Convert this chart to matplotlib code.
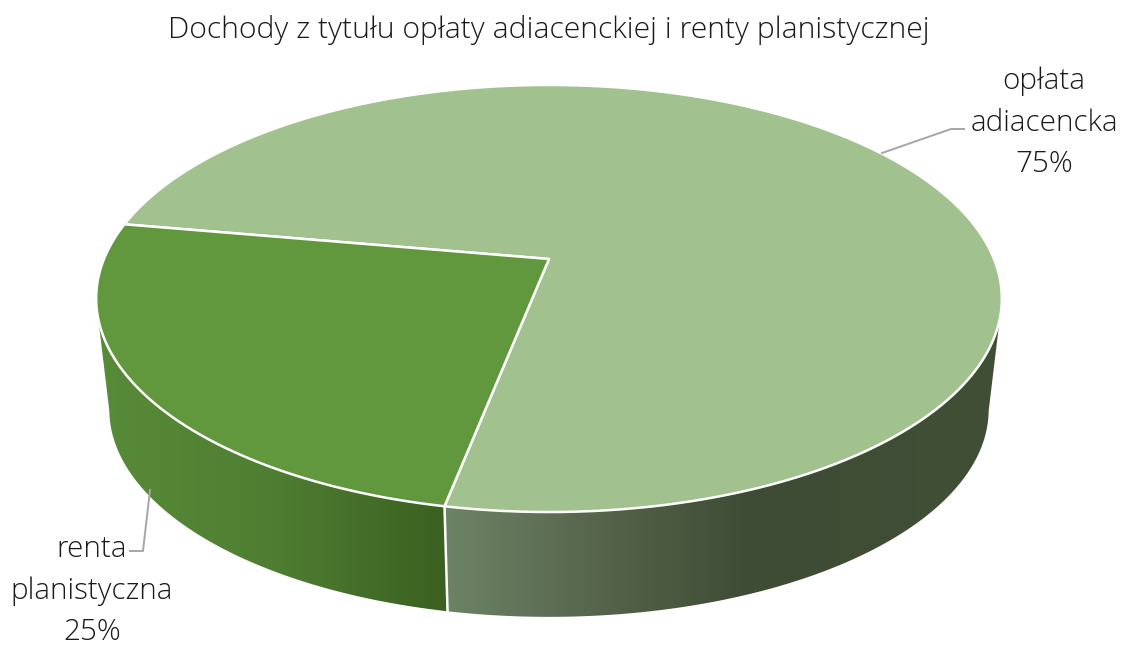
"""
perspective 3d pie, income from two fees
"""
import numpy as np
import matplotlib
matplotlib.use("Agg")
import matplotlib.pyplot as plt
from matplotlib.colors import LinearSegmentedColormap
from matplotlib.patches import Polygon

title = "Dochody z tytułu opłaty adiacenckiej i renty planistycznej"
labels = ["opłata\nadiacencka", "renta\nplanistyczna"]
values = [75.3, 24.7]
top_colors = ["#a1c18f", "#61973d"]
side_stops = [[(0.0, "#6d8366"), (0.33, "#515f47"), (0.55, "#3f4c35"), (1.0, "#424f37")],
              [(0.0, "#588b38"), (0.5, "#4f7e32"), (1.0, "#3b6020")]]

first_angle = 280.0  # clockwise from the back of the pie

# camera, in pixels of the 1122x646 image
cx, apex_y = 549.0, 259.0
persp = 0.185
y_gain = -158.3
x_gain = 445.0
depth_scale = 0.971
vanish_y = 4127.0


def project_top(angle):
    a = np.radians(angle)
    x, y = np.sin(a), np.cos(a)
    w = 1 + persp * y
    return cx + x_gain * x / w, (apex_y + y_gain * y) / w


def project_bottom(angle):
    X, Y = project_top(angle)
    return cx + depth_scale * (X - cx), vanish_y - depth_scale * (vanish_y - Y)


def arc(func, a0, a1):
    n = max(int(abs(a1 - a0) * 2), 2)
    X, Y = func(np.linspace(a0, a1, n))
    return np.column_stack([X, Y])


plt.rcParams['font.family'] = ['Open Sans', 'DejaVu Sans']
plt.rcParams['font.weight'] = 300

fig = plt.figure(figsize=(11.22, 6.46), dpi=100)
ax = fig.add_axes([0, 0, 1, 1])
ax.set_xlim(0, 1122)
ax.set_ylim(646, 0)
ax.axis("off")

shares = np.array(values) / sum(values)
edges = first_angle + np.concatenate([[0], np.cumsum(shares) * 360])

# side walls, only the part facing the camera
front_from, front_to = 106.0, 254.0
bottom_extra = 5.0  # lower rim runs on a bit further, rounds the silhouette
seams = []
for i in range(len(values)):
    a0, a1 = edges[i] % 360, edges[i + 1] % 360
    if a1 < a0:
        a0 -= 360
    lo, hi = max(a0, front_from), min(a1, front_to)
    if lo >= hi:
        continue
    lo_b = lo - bottom_extra if lo == front_from else lo
    hi_b = hi + bottom_extra if hi == front_to else hi
    top_arc = arc(project_top, lo, hi)
    low_arc = arc(project_bottom, hi_b, lo_b)
    wall = np.vstack([top_arc, low_arc])
    x0, x1 = wall[:, 0].min(), wall[:, 0].max()
    cmap = LinearSegmentedColormap.from_list("side%d" % i, side_stops[i])
    grad = np.linspace(0, 1, 512).reshape(1, -1)
    im = ax.imshow(grad, cmap=cmap, extent=(x0, x1, 646, 0), aspect="auto", zorder=1)
    clip = Polygon(wall, closed=True, transform=ax.transData, fc="none", ec="none")
    ax.add_patch(clip)
    im.set_clip_path(clip)
    if front_from < a0 < front_to:
        seams.append(a0)
    if front_from < a1 < front_to:
        seams.append(a1)
ax.set_xlim(0, 1122)
ax.set_ylim(646, 0)

for a in set(seams):
    p = project_top(a)
    q = project_bottom(a)
    ax.plot([p[0], q[0]], [p[1], q[1]], color="white", lw=1.8, zorder=2)

# top face
for i in range(len(values)):
    pts = arc(project_top, edges[i], edges[i + 1])
    pts = np.vstack([[cx, apex_y], pts])
    ax.add_patch(Polygon(pts, closed=True, fc=top_colors[i], ec="white", lw=1.8,
                         joinstyle="round", zorder=3))

# leaders
leader_color = "#a6a6a6"
ax.plot([882, 951, 964], [153, 129, 129], color=leader_color, lw=1.4, zorder=4)
ax.plot([150, 143, 130], [490, 551, 551], color=leader_color, lw=1.4, zorder=4)

text_color = "#1a1a1a"
ax.text(549, 30, title, ha="center", va="center", fontsize=21.7, color=text_color)
label_pos = [(1044, 123), (92, 591)]
for lab, share, pos in zip(labels, shares, label_pos):
    ax.text(pos[0], pos[1], "%s\n%d%%" % (lab, round(share * 100)), ha="center",
            va="center", fontsize=21.3, color=text_color, linespacing=1.53,
            multialignment="center")

fig.savefig("out.png", dpi=100)
